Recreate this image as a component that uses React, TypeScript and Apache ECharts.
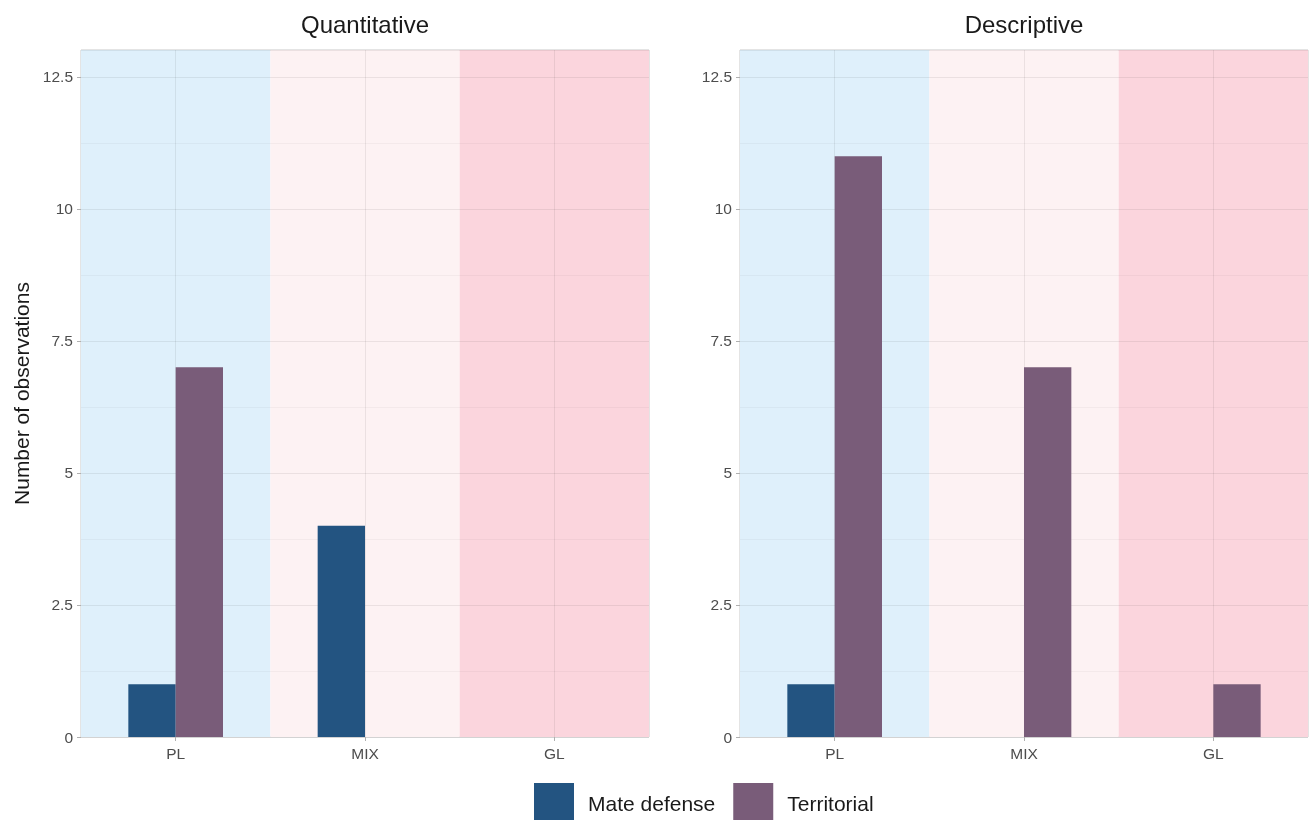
import React, { useEffect, useRef } from "react";
import * as echarts from "echarts";

const categories = ["PL", "MIX", "GL"];
const panels = ["Quantitative", "Descriptive"];
const seriesNames = ["Mate defense", "Territorial"];
const quantMate = [1, 4, 0];
const quantTerr = [7, 0, 0];
const descMate = [1, 0, 0];
const descTerr = [11, 7, 1];
const bandColors = ["#dff0fb", "#fdf2f3", "#fbd5dd"];
const seriesColors = ["#235481", "#795c79"];
const Y_MAX = 13.01;

const FONT = "Liberation Sans, Arial, Helvetica, sans-serif";

export default function App() {
  const ref = useRef<HTMLDivElement>(null);
  useEffect(() => {
    if (!ref.current) return;
    const chart = echarts.init(ref.current, undefined, { renderer: "svg" });
    const gridLefts = [81, 740];
    const panelData = [
      [quantMate, quantTerr],
      [descMate, descTerr],
    ];
    const grids = gridLefts.map((left) => ({
      left,
      top: 50,
      width: 568,
      height: 687,
      show: true,
      borderColor: "#c9c9c9",
      borderWidth: 1,
      backgroundColor: "transparent",
      containLabel: false,
    }));
    const xAxes: any[] = [];
    const yAxes: any[] = [];
    const series: any[] = [];
    panels.forEach((p, i) => {
      xAxes.push({
        type: "category",
        gridIndex: i,
        data: categories,
        z: 1,
        axisLine: { show: false },
        axisTick: { show: true, alignWithLabel: true, length: 4, lineStyle: { color: "#b0b0b0" } },
        axisLabel: { color: "#4d4d4d", fontSize: 15.5, fontFamily: FONT, margin: 8 },
        splitLine: { show: false },
      });
      xAxes.push({
        type: "category",
        gridIndex: i,
        data: categories,
        show: false,
      });
      yAxes.push({
        type: "value",
        gridIndex: i,
        min: 0,
        max: Y_MAX,
        interval: 2.5,
        z: 1,
        name: i === 0 ? "Number of observations" : "",
        nameLocation: "middle",
        nameGap: 49,
        nameTextStyle: { color: "#1a1a1a", fontSize: 21, fontFamily: FONT },
        axisLine: { show: false },
        axisTick: { show: true, length: 4, lineStyle: { color: "#b0b0b0" } },
        axisLabel: { color: "#4d4d4d", fontSize: 15.5, fontFamily: FONT, showMaxLabel: false, margin: 8 },
        splitLine: { show: true, lineStyle: { color: "rgba(0,0,0,0.07)", width: 1 } },
        minorTick: { show: false, splitNumber: 2 },
        minorSplitLine: { show: true, lineStyle: { color: "rgba(0,0,0,0.035)", width: 1 } },
      });
      series.push({
        type: "bar",
        name: "bands" + i,
        xAxisIndex: i * 2 + 1,
        yAxisIndex: i,
        barWidth: "100%",
        silent: true,
        z: 0,
        data: categories.map((c, k) => ({ value: Y_MAX, itemStyle: { color: bandColors[k] } })),
        markLine: {
          silent: true,
          symbol: "none",
          z: 1,
          label: { show: false },
          lineStyle: { color: "rgba(0,0,0,0.07)", type: "solid", width: 1 },
          data: categories.map((c) => ({ xAxis: c })),
        },
      });
      seriesNames.forEach((s, j) => {
        series.push({
          type: "bar",
          name: s,
          xAxisIndex: i * 2,
          yAxisIndex: i,
          barWidth: "25%",
          barGap: "0%",
          z: 2,
          itemStyle: { color: seriesColors[j] },
          data: panelData[i][j],
        });
      });
    });
    chart.setOption({
      animation: false,
      textStyle: { fontFamily: FONT },
      title: panels.map((p, i) => ({
        text: p,
        left: gridLefts[i] + 284,
        top: 12,
        padding: 0,
        textAlign: "center",
        textStyle: { fontSize: 24, fontWeight: "normal", color: "#1a1a1a", fontFamily: FONT },
      })),
      legend: {
        data: seriesNames,
        left: 534,
        top: 783,
        padding: 0,
        itemWidth: 40,
        itemHeight: 40,
        itemGap: 18,
        icon: "rect",
        textStyle: { fontSize: 21, color: "#1a1a1a", fontFamily: FONT, padding: [0, 0, 0, 9] },
      },
      grid: grids,
      xAxis: xAxes,
      yAxis: yAxes,
      series,
    });
    return () => chart.dispose();
  }, []);
  return (
    <div
      ref={ref}
      style={{ position: "fixed", left: 0, top: 0, width: 1309, height: 820 }}
    />
  );
}
